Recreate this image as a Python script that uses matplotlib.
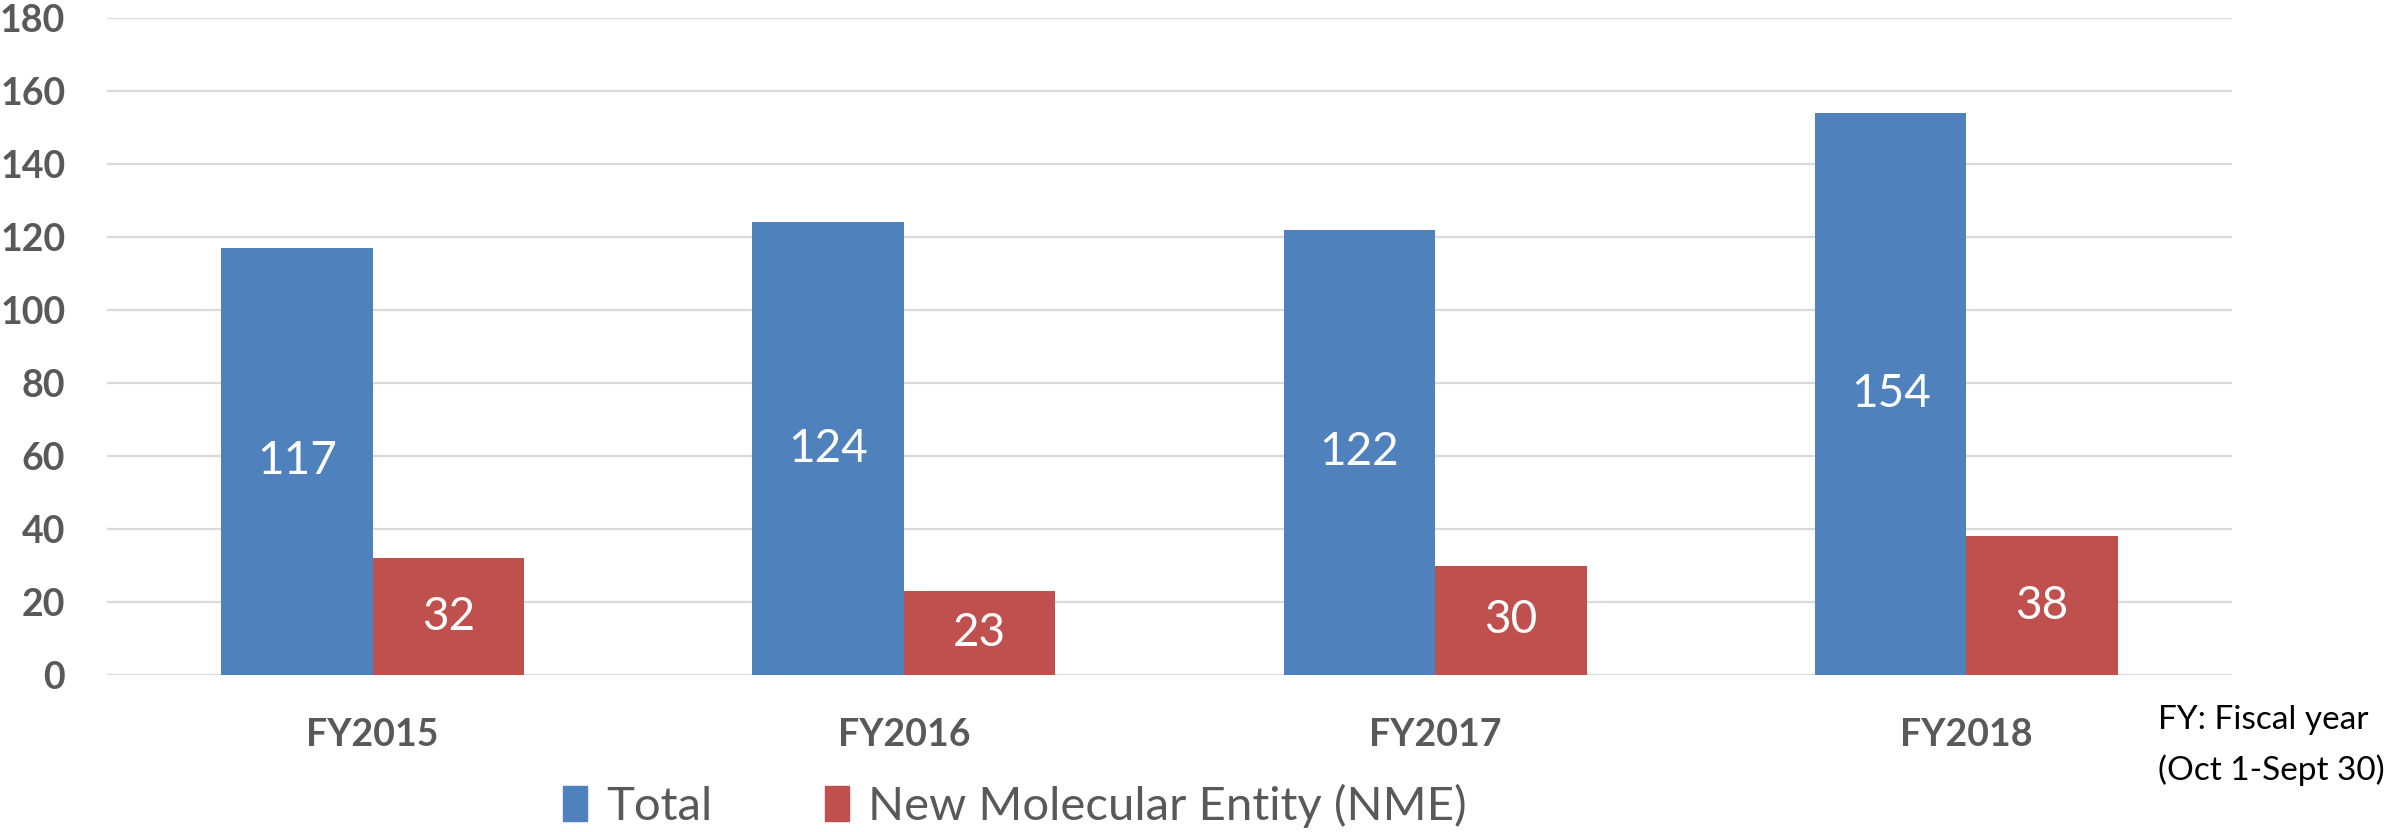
import matplotlib
matplotlib.use("Agg")
import matplotlib.pyplot as plt
import numpy as np
from matplotlib.patches import Patch

categories = ["FY2015", "FY2016", "FY2017", "FY2018"]
total = [117, 124, 122, 154]
nme = [32, 23, 30, 38]
series_names = ["Total", "New Molecular Entity (NME)"]
yticks = [0, 20, 40, 60, 80, 100, 120, 140, 160, 180]

plt.rcParams['font.family'] = ['Lato', 'DejaVu Sans']

BLUE = "#4F81BD"
RED = "#C0504D"
GRAY = "#595959"

fig = plt.figure(figsize=(23.89, 8.32), dpi=100)
ax = fig.add_axes([107/2389, 1-675/832, (2232-107)/2389, (675-18)/832])

x = np.arange(len(categories))
w = 0.285
b1 = ax.bar(x - w/2, total, width=w, color=BLUE, zorder=3)
b2 = ax.bar(x + w/2, nme, width=w, color=RED, zorder=3)

ax.bar_label(b1, label_type='center', color='white', fontsize=33)
ax.bar_label(b2, label_type='center', color='white', fontsize=33)

ax.set_xlim(-0.5, len(categories) - 0.5)
ax.set_ylim(0, 180)
ax.set_yticks(yticks)
ax.set_xticks(x)
ax.set_xticklabels(categories)
ax.yaxis.grid(True, color="#d9d9d9", linewidth=1.6, zorder=0)
ax.set_axisbelow(True)
for s in ax.spines.values():
    s.set_visible(False)
ax.tick_params(axis='y', length=0, pad=30, labelsize=27, labelcolor=GRAY)
ax.tick_params(axis='x', length=0, pad=31, labelsize=27, labelcolor=GRAY)
for lab in ax.get_yticklabels() + ax.get_xticklabels():
    lab.set_fontweight('bold')

handles = [Patch(color=BLUE), Patch(color=RED)]
fig.legend(handles, series_names, loc='center', bbox_to_anchor=(1015/2389, 1-806/832),
           ncol=2, frameon=False, fontsize=34, labelcolor=GRAY,
           handlelength=0.5, handleheight=0.75, handletextpad=0.4, columnspacing=2.4)

fig.text(2158/2389, 1-720/832, "FY: Fiscal year", fontsize=24, color='black', ha='left', va='center')
fig.text(2158/2389, 1-770/832, "(Oct 1-Sept 30)", fontsize=24, color='black', ha='left', va='center')

fig.savefig("out.png", dpi=100)
